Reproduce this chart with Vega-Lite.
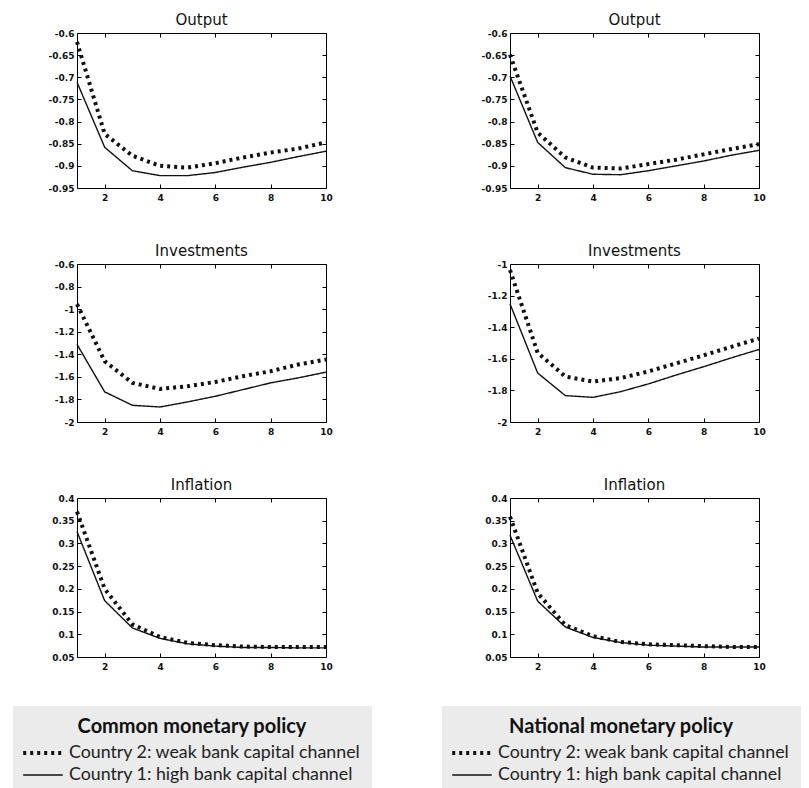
{
  "$schema": "https://vega.github.io/schema/vega-lite/v6.json",
  "autosize": {"type": "pad"},
  "padding": {"left": 12, "top": 12, "right": 0, "bottom": 0},
  "background": "white",
  "data": {"values": [
    {"p":"Common","v":"Output","c":"Country 1: high bank capital channel","t":1,"y":-0.711},
    {"p":"Common","v":"Output","c":"Country 1: high bank capital channel","t":2,"y":-0.858},
    {"p":"Common","v":"Output","c":"Country 1: high bank capital channel","t":3,"y":-0.911},
    {"p":"Common","v":"Output","c":"Country 1: high bank capital channel","t":4,"y":-0.922},
    {"p":"Common","v":"Output","c":"Country 1: high bank capital channel","t":5,"y":-0.922},
    {"p":"Common","v":"Output","c":"Country 1: high bank capital channel","t":6,"y":-0.915},
    {"p":"Common","v":"Output","c":"Country 1: high bank capital channel","t":7,"y":-0.903},
    {"p":"Common","v":"Output","c":"Country 1: high bank capital channel","t":8,"y":-0.892},
    {"p":"Common","v":"Output","c":"Country 1: high bank capital channel","t":9,"y":-0.879},
    {"p":"Common","v":"Output","c":"Country 1: high bank capital channel","t":10,"y":-0.867},
    {"p":"Common","v":"Output","c":"Country 2: weak bank capital channel","t":1,"y":-0.62},
    {"p":"Common","v":"Output","c":"Country 2: weak bank capital channel","t":2,"y":-0.828},
    {"p":"Common","v":"Output","c":"Country 2: weak bank capital channel","t":3,"y":-0.877},
    {"p":"Common","v":"Output","c":"Country 2: weak bank capital channel","t":4,"y":-0.9},
    {"p":"Common","v":"Output","c":"Country 2: weak bank capital channel","t":5,"y":-0.904},
    {"p":"Common","v":"Output","c":"Country 2: weak bank capital channel","t":6,"y":-0.894},
    {"p":"Common","v":"Output","c":"Country 2: weak bank capital channel","t":7,"y":-0.881},
    {"p":"Common","v":"Output","c":"Country 2: weak bank capital channel","t":8,"y":-0.87},
    {"p":"Common","v":"Output","c":"Country 2: weak bank capital channel","t":9,"y":-0.861},
    {"p":"Common","v":"Output","c":"Country 2: weak bank capital channel","t":10,"y":-0.847},
    {"p":"National","v":"Output","c":"Country 1: high bank capital channel","t":1,"y":-0.697},
    {"p":"National","v":"Output","c":"Country 1: high bank capital channel","t":2,"y":-0.847},
    {"p":"National","v":"Output","c":"Country 1: high bank capital channel","t":3,"y":-0.904},
    {"p":"National","v":"Output","c":"Country 1: high bank capital channel","t":4,"y":-0.919},
    {"p":"National","v":"Output","c":"Country 1: high bank capital channel","t":5,"y":-0.92},
    {"p":"National","v":"Output","c":"Country 1: high bank capital channel","t":6,"y":-0.911},
    {"p":"National","v":"Output","c":"Country 1: high bank capital channel","t":7,"y":-0.9},
    {"p":"National","v":"Output","c":"Country 1: high bank capital channel","t":8,"y":-0.889},
    {"p":"National","v":"Output","c":"Country 1: high bank capital channel","t":9,"y":-0.876},
    {"p":"National","v":"Output","c":"Country 1: high bank capital channel","t":10,"y":-0.865},
    {"p":"National","v":"Output","c":"Country 2: weak bank capital channel","t":1,"y":-0.649},
    {"p":"National","v":"Output","c":"Country 2: weak bank capital channel","t":2,"y":-0.825},
    {"p":"National","v":"Output","c":"Country 2: weak bank capital channel","t":3,"y":-0.881},
    {"p":"National","v":"Output","c":"Country 2: weak bank capital channel","t":4,"y":-0.904},
    {"p":"National","v":"Output","c":"Country 2: weak bank capital channel","t":5,"y":-0.906},
    {"p":"National","v":"Output","c":"Country 2: weak bank capital channel","t":6,"y":-0.896},
    {"p":"National","v":"Output","c":"Country 2: weak bank capital channel","t":7,"y":-0.886},
    {"p":"National","v":"Output","c":"Country 2: weak bank capital channel","t":8,"y":-0.874},
    {"p":"National","v":"Output","c":"Country 2: weak bank capital channel","t":9,"y":-0.862},
    {"p":"National","v":"Output","c":"Country 2: weak bank capital channel","t":10,"y":-0.851},
    {"p":"Common","v":"Investments","c":"Country 1: high bank capital channel","t":1,"y":-1.312},
    {"p":"Common","v":"Investments","c":"Country 1: high bank capital channel","t":2,"y":-1.733},
    {"p":"Common","v":"Investments","c":"Country 1: high bank capital channel","t":3,"y":-1.852},
    {"p":"Common","v":"Investments","c":"Country 1: high bank capital channel","t":4,"y":-1.867},
    {"p":"Common","v":"Investments","c":"Country 1: high bank capital channel","t":5,"y":-1.822},
    {"p":"Common","v":"Investments","c":"Country 1: high bank capital channel","t":6,"y":-1.772},
    {"p":"Common","v":"Investments","c":"Country 1: high bank capital channel","t":7,"y":-1.713},
    {"p":"Common","v":"Investments","c":"Country 1: high bank capital channel","t":8,"y":-1.653},
    {"p":"Common","v":"Investments","c":"Country 1: high bank capital channel","t":9,"y":-1.609},
    {"p":"Common","v":"Investments","c":"Country 1: high bank capital channel","t":10,"y":-1.558},
    {"p":"Common","v":"Investments","c":"Country 2: weak bank capital channel","t":1,"y":-0.956},
    {"p":"Common","v":"Investments","c":"Country 2: weak bank capital channel","t":2,"y":-1.461},
    {"p":"Common","v":"Investments","c":"Country 2: weak bank capital channel","t":3,"y":-1.653},
    {"p":"Common","v":"Investments","c":"Country 2: weak bank capital channel","t":4,"y":-1.707},
    {"p":"Common","v":"Investments","c":"Country 2: weak bank capital channel","t":5,"y":-1.683},
    {"p":"Common","v":"Investments","c":"Country 2: weak bank capital channel","t":6,"y":-1.645},
    {"p":"Common","v":"Investments","c":"Country 2: weak bank capital channel","t":7,"y":-1.594},
    {"p":"Common","v":"Investments","c":"Country 2: weak bank capital channel","t":8,"y":-1.55},
    {"p":"Common","v":"Investments","c":"Country 2: weak bank capital channel","t":9,"y":-1.49},
    {"p":"Common","v":"Investments","c":"Country 2: weak bank capital channel","t":10,"y":-1.446},
    {"p":"National","v":"Investments","c":"Country 1: high bank capital channel","t":1,"y":-1.252},
    {"p":"National","v":"Investments","c":"Country 1: high bank capital channel","t":2,"y":-1.69},
    {"p":"National","v":"Investments","c":"Country 1: high bank capital channel","t":3,"y":-1.833},
    {"p":"National","v":"Investments","c":"Country 1: high bank capital channel","t":4,"y":-1.844},
    {"p":"National","v":"Investments","c":"Country 1: high bank capital channel","t":5,"y":-1.808},
    {"p":"National","v":"Investments","c":"Country 1: high bank capital channel","t":6,"y":-1.759},
    {"p":"National","v":"Investments","c":"Country 1: high bank capital channel","t":7,"y":-1.703},
    {"p":"National","v":"Investments","c":"Country 1: high bank capital channel","t":8,"y":-1.65},
    {"p":"National","v":"Investments","c":"Country 1: high bank capital channel","t":9,"y":-1.594},
    {"p":"National","v":"Investments","c":"Country 1: high bank capital channel","t":10,"y":-1.541},
    {"p":"National","v":"Investments","c":"Country 2: weak bank capital channel","t":1,"y":-1.038},
    {"p":"National","v":"Investments","c":"Country 2: weak bank capital channel","t":2,"y":-1.562},
    {"p":"National","v":"Investments","c":"Country 2: weak bank capital channel","t":3,"y":-1.712},
    {"p":"National","v":"Investments","c":"Country 2: weak bank capital channel","t":4,"y":-1.744},
    {"p":"National","v":"Investments","c":"Country 2: weak bank capital channel","t":5,"y":-1.722},
    {"p":"National","v":"Investments","c":"Country 2: weak bank capital channel","t":6,"y":-1.68},
    {"p":"National","v":"Investments","c":"Country 2: weak bank capital channel","t":7,"y":-1.629},
    {"p":"National","v":"Investments","c":"Country 2: weak bank capital channel","t":8,"y":-1.578},
    {"p":"National","v":"Investments","c":"Country 2: weak bank capital channel","t":9,"y":-1.524},
    {"p":"National","v":"Investments","c":"Country 2: weak bank capital channel","t":10,"y":-1.472},
    {"p":"Common","v":"Inflation","c":"Country 1: high bank capital channel","t":1,"y":0.326},
    {"p":"Common","v":"Inflation","c":"Country 1: high bank capital channel","t":2,"y":0.174},
    {"p":"Common","v":"Inflation","c":"Country 1: high bank capital channel","t":3,"y":0.114},
    {"p":"Common","v":"Inflation","c":"Country 1: high bank capital channel","t":4,"y":0.091},
    {"p":"Common","v":"Inflation","c":"Country 1: high bank capital channel","t":5,"y":0.079},
    {"p":"Common","v":"Inflation","c":"Country 1: high bank capital channel","t":6,"y":0.074},
    {"p":"Common","v":"Inflation","c":"Country 1: high bank capital channel","t":7,"y":0.071},
    {"p":"Common","v":"Inflation","c":"Country 1: high bank capital channel","t":8,"y":0.071},
    {"p":"Common","v":"Inflation","c":"Country 1: high bank capital channel","t":9,"y":0.07},
    {"p":"Common","v":"Inflation","c":"Country 1: high bank capital channel","t":10,"y":0.07},
    {"p":"Common","v":"Inflation","c":"Country 2: weak bank capital channel","t":1,"y":0.37},
    {"p":"Common","v":"Inflation","c":"Country 2: weak bank capital channel","t":2,"y":0.2},
    {"p":"Common","v":"Inflation","c":"Country 2: weak bank capital channel","t":3,"y":0.122},
    {"p":"Common","v":"Inflation","c":"Country 2: weak bank capital channel","t":4,"y":0.094},
    {"p":"Common","v":"Inflation","c":"Country 2: weak bank capital channel","t":5,"y":0.081},
    {"p":"Common","v":"Inflation","c":"Country 2: weak bank capital channel","t":6,"y":0.076},
    {"p":"Common","v":"Inflation","c":"Country 2: weak bank capital channel","t":7,"y":0.073},
    {"p":"Common","v":"Inflation","c":"Country 2: weak bank capital channel","t":8,"y":0.072},
    {"p":"Common","v":"Inflation","c":"Country 2: weak bank capital channel","t":9,"y":0.072},
    {"p":"Common","v":"Inflation","c":"Country 2: weak bank capital channel","t":10,"y":0.072},
    {"p":"National","v":"Inflation","c":"Country 1: high bank capital channel","t":1,"y":0.318},
    {"p":"National","v":"Inflation","c":"Country 1: high bank capital channel","t":2,"y":0.173},
    {"p":"National","v":"Inflation","c":"Country 1: high bank capital channel","t":3,"y":0.116},
    {"p":"National","v":"Inflation","c":"Country 1: high bank capital channel","t":4,"y":0.093},
    {"p":"National","v":"Inflation","c":"Country 1: high bank capital channel","t":5,"y":0.082},
    {"p":"National","v":"Inflation","c":"Country 1: high bank capital channel","t":6,"y":0.076},
    {"p":"National","v":"Inflation","c":"Country 1: high bank capital channel","t":7,"y":0.074},
    {"p":"National","v":"Inflation","c":"Country 1: high bank capital channel","t":8,"y":0.072},
    {"p":"National","v":"Inflation","c":"Country 1: high bank capital channel","t":9,"y":0.072},
    {"p":"National","v":"Inflation","c":"Country 1: high bank capital channel","t":10,"y":0.072},
    {"p":"National","v":"Inflation","c":"Country 2: weak bank capital channel","t":1,"y":0.359},
    {"p":"National","v":"Inflation","c":"Country 2: weak bank capital channel","t":2,"y":0.191},
    {"p":"National","v":"Inflation","c":"Country 2: weak bank capital channel","t":3,"y":0.12},
    {"p":"National","v":"Inflation","c":"Country 2: weak bank capital channel","t":4,"y":0.096},
    {"p":"National","v":"Inflation","c":"Country 2: weak bank capital channel","t":5,"y":0.083},
    {"p":"National","v":"Inflation","c":"Country 2: weak bank capital channel","t":6,"y":0.078},
    {"p":"National","v":"Inflation","c":"Country 2: weak bank capital channel","t":7,"y":0.076},
    {"p":"National","v":"Inflation","c":"Country 2: weak bank capital channel","t":8,"y":0.074},
    {"p":"National","v":"Inflation","c":"Country 2: weak bank capital channel","t":9,"y":0.072},
    {"p":"National","v":"Inflation","c":"Country 2: weak bank capital channel","t":10,"y":0.072}
  ]},
  "columns": 2,
  "spacing": {"row": 76, "column": 184},
  "bounds": "flush",
  "align": "each",
  "concat": [
    {
      "width": 249, "height": 155, "title": "Output",
      "transform": [{"filter": "datum.p === 'Common' && datum.v === 'Output'"}],
      "layer": [
        {"mark": {"type": "line", "stroke": "#111", "strokeCap": "butt"},
         "encoding": {
           "x": {"field": "t", "type": "quantitative", "title": null, "scale": {"domain": [1, 10], "nice": false}, "axis": {"values": [2, 4, 6, 8, 10]}},
           "y": {"field": "y", "type": "quantitative", "title": null, "scale": {"domain": [-0.95, -0.6], "nice": false, "zero": false}, "axis": {"values": [-0.95, -0.9, -0.85, -0.8, -0.75, -0.7, -0.65, -0.6]}},
           "strokeDash": {"field": "c", "type": "nominal", "scale": {"domain": ["Country 2: weak bank capital channel", "Country 1: high bank capital channel"], "range": [[3, 4], [1, 0]]}, "legend": null},
           "strokeWidth": {"field": "c", "type": "ordinal", "scale": {"domain": ["Country 2: weak bank capital channel", "Country 1: high bank capital channel"], "range": [4, 1.4]}, "legend": null}
         }},
        {"mark": {"type": "point", "opacity": 0},
         "encoding": {
           "x": {"field": "t", "type": "quantitative", "title": null, "scale": {"domain": [1, 10], "nice": false}, "axis": {"orient": "top", "labels": false, "values": [2, 4, 6, 8, 10]}},
           "y": {"field": "y", "type": "quantitative", "title": null, "scale": {"domain": [-0.95, -0.6], "nice": false, "zero": false}, "axis": {"orient": "right", "labels": false, "values": [-0.95, -0.9, -0.85, -0.8, -0.75, -0.7, -0.65, -0.6]}}
         }}
      ],
      "resolve": {"axis": {"x": "independent", "y": "independent"}}
    },
    {
      "width": 249, "height": 155, "title": "Output",
      "transform": [{"filter": "datum.p === 'National' && datum.v === 'Output'"}],
      "layer": [
        {"mark": {"type": "line", "stroke": "#111", "strokeCap": "butt"},
         "encoding": {
           "x": {"field": "t", "type": "quantitative", "title": null, "scale": {"domain": [1, 10], "nice": false}, "axis": {"values": [2, 4, 6, 8, 10]}},
           "y": {"field": "y", "type": "quantitative", "title": null, "scale": {"domain": [-0.95, -0.6], "nice": false, "zero": false}, "axis": {"values": [-0.95, -0.9, -0.85, -0.8, -0.75, -0.7, -0.65, -0.6]}},
           "strokeDash": {"field": "c", "type": "nominal", "scale": {"domain": ["Country 2: weak bank capital channel", "Country 1: high bank capital channel"], "range": [[3, 4], [1, 0]]}, "legend": null},
           "strokeWidth": {"field": "c", "type": "ordinal", "scale": {"domain": ["Country 2: weak bank capital channel", "Country 1: high bank capital channel"], "range": [4, 1.4]}, "legend": null}
         }},
        {"mark": {"type": "point", "opacity": 0},
         "encoding": {
           "x": {"field": "t", "type": "quantitative", "title": null, "scale": {"domain": [1, 10], "nice": false}, "axis": {"orient": "top", "labels": false, "values": [2, 4, 6, 8, 10]}},
           "y": {"field": "y", "type": "quantitative", "title": null, "scale": {"domain": [-0.95, -0.6], "nice": false, "zero": false}, "axis": {"orient": "right", "labels": false, "values": [-0.95, -0.9, -0.85, -0.8, -0.75, -0.7, -0.65, -0.6]}}
         }}
      ],
      "resolve": {"axis": {"x": "independent", "y": "independent"}}
    },
    {
      "width": 249, "height": 158, "title": "Investments",
      "transform": [{"filter": "datum.p === 'Common' && datum.v === 'Investments'"}],
      "layer": [
        {"mark": {"type": "line", "stroke": "#111", "strokeCap": "butt"},
         "encoding": {
           "x": {"field": "t", "type": "quantitative", "title": null, "scale": {"domain": [1, 10], "nice": false}, "axis": {"values": [2, 4, 6, 8, 10]}},
           "y": {"field": "y", "type": "quantitative", "title": null, "scale": {"domain": [-2, -0.6], "nice": false, "zero": false}, "axis": {"values": [-2, -1.8, -1.6, -1.4, -1.2, -1, -0.8, -0.6]}},
           "strokeDash": {"field": "c", "type": "nominal", "scale": {"domain": ["Country 2: weak bank capital channel", "Country 1: high bank capital channel"], "range": [[3, 4], [1, 0]]}, "legend": null},
           "strokeWidth": {"field": "c", "type": "ordinal", "scale": {"domain": ["Country 2: weak bank capital channel", "Country 1: high bank capital channel"], "range": [4, 1.4]}, "legend": null}
         }},
        {"mark": {"type": "point", "opacity": 0},
         "encoding": {
           "x": {"field": "t", "type": "quantitative", "title": null, "scale": {"domain": [1, 10], "nice": false}, "axis": {"orient": "top", "labels": false, "values": [2, 4, 6, 8, 10]}},
           "y": {"field": "y", "type": "quantitative", "title": null, "scale": {"domain": [-2, -0.6], "nice": false, "zero": false}, "axis": {"orient": "right", "labels": false, "values": [-2, -1.8, -1.6, -1.4, -1.2, -1, -0.8, -0.6]}}
         }}
      ],
      "resolve": {"axis": {"x": "independent", "y": "independent"}}
    },
    {
      "width": 249, "height": 158, "title": "Investments",
      "transform": [{"filter": "datum.p === 'National' && datum.v === 'Investments'"}],
      "layer": [
        {"mark": {"type": "line", "stroke": "#111", "strokeCap": "butt"},
         "encoding": {
           "x": {"field": "t", "type": "quantitative", "title": null, "scale": {"domain": [1, 10], "nice": false}, "axis": {"values": [2, 4, 6, 8, 10]}},
           "y": {"field": "y", "type": "quantitative", "title": null, "scale": {"domain": [-2, -1], "nice": false, "zero": false}, "axis": {"values": [-2, -1.8, -1.6, -1.4, -1.2, -1]}},
           "strokeDash": {"field": "c", "type": "nominal", "scale": {"domain": ["Country 2: weak bank capital channel", "Country 1: high bank capital channel"], "range": [[3, 4], [1, 0]]}, "legend": null},
           "strokeWidth": {"field": "c", "type": "ordinal", "scale": {"domain": ["Country 2: weak bank capital channel", "Country 1: high bank capital channel"], "range": [4, 1.4]}, "legend": null}
         }},
        {"mark": {"type": "point", "opacity": 0},
         "encoding": {
           "x": {"field": "t", "type": "quantitative", "title": null, "scale": {"domain": [1, 10], "nice": false}, "axis": {"orient": "top", "labels": false, "values": [2, 4, 6, 8, 10]}},
           "y": {"field": "y", "type": "quantitative", "title": null, "scale": {"domain": [-2, -1], "nice": false, "zero": false}, "axis": {"orient": "right", "labels": false, "values": [-2, -1.8, -1.6, -1.4, -1.2, -1]}}
         }}
      ],
      "resolve": {"axis": {"x": "independent", "y": "independent"}}
    },
    {
      "width": 249, "height": 159, "title": "Inflation",
      "transform": [{"filter": "datum.p === 'Common' && datum.v === 'Inflation'"}],
      "layer": [
        {"mark": {"type": "line", "stroke": "#111", "strokeCap": "butt"},
         "encoding": {
           "x": {"field": "t", "type": "quantitative", "title": null, "scale": {"domain": [1, 10], "nice": false}, "axis": {"values": [2, 4, 6, 8, 10]}},
           "y": {"field": "y", "type": "quantitative", "title": null, "scale": {"domain": [0.05, 0.4], "nice": false, "zero": false}, "axis": {"values": [0.05, 0.1, 0.15, 0.2, 0.25, 0.3, 0.35, 0.4]}},
           "strokeDash": {"field": "c", "type": "nominal", "title": "Common monetary policy", "scale": {"domain": ["Country 2: weak bank capital channel", "Country 1: high bank capital channel"], "range": [[3, 4], [1, 0]]}, "legend": {"orient": "none", "legendX": -64, "legendY": 208, "padding": 11}},
           "strokeWidth": {"field": "c", "type": "ordinal", "title": "Common monetary policy", "scale": {"domain": ["Country 2: weak bank capital channel", "Country 1: high bank capital channel"], "range": [4, 1.4]}, "legend": {"orient": "none", "legendX": -64, "legendY": 208, "padding": 11}}
         }},
        {"mark": {"type": "point", "opacity": 0},
         "encoding": {
           "x": {"field": "t", "type": "quantitative", "title": null, "scale": {"domain": [1, 10], "nice": false}, "axis": {"orient": "top", "labels": false, "values": [2, 4, 6, 8, 10]}},
           "y": {"field": "y", "type": "quantitative", "title": null, "scale": {"domain": [0.05, 0.4], "nice": false, "zero": false}, "axis": {"orient": "right", "labels": false, "values": [0.05, 0.1, 0.15, 0.2, 0.25, 0.3, 0.35, 0.4]}}
         }}
      ],
      "resolve": {"axis": {"x": "independent", "y": "independent"}}
    },
    {
      "width": 249, "height": 159, "title": "Inflation",
      "transform": [{"filter": "datum.p === 'National' && datum.v === 'Inflation'"}],
      "layer": [
        {"mark": {"type": "line", "stroke": "#111", "strokeCap": "butt"},
         "encoding": {
           "x": {"field": "t", "type": "quantitative", "title": null, "scale": {"domain": [1, 10], "nice": false}, "axis": {"values": [2, 4, 6, 8, 10]}},
           "y": {"field": "y", "type": "quantitative", "title": null, "scale": {"domain": [0.05, 0.4], "nice": false, "zero": false}, "axis": {"values": [0.05, 0.1, 0.15, 0.2, 0.25, 0.3, 0.35, 0.4]}},
           "strokeDash": {"field": "c", "type": "nominal", "title": "National monetary policy", "scale": {"domain": ["Country 2: weak bank capital channel", "Country 1: high bank capital channel"], "range": [[3, 4], [1, 0]]}, "legend": {"orient": "none", "legendX": -68, "legendY": 208, "padding": 11}},
           "strokeWidth": {"field": "c", "type": "ordinal", "title": "National monetary policy", "scale": {"domain": ["Country 2: weak bank capital channel", "Country 1: high bank capital channel"], "range": [4, 1.4]}, "legend": {"orient": "none", "legendX": -68, "legendY": 208, "padding": 11}}
         }},
        {"mark": {"type": "point", "opacity": 0},
         "encoding": {
           "x": {"field": "t", "type": "quantitative", "title": null, "scale": {"domain": [1, 10], "nice": false}, "axis": {"orient": "top", "labels": false, "values": [2, 4, 6, 8, 10]}},
           "y": {"field": "y", "type": "quantitative", "title": null, "scale": {"domain": [0.05, 0.4], "nice": false, "zero": false}, "axis": {"orient": "right", "labels": false, "values": [0.05, 0.1, 0.15, 0.2, 0.25, 0.3, 0.35, 0.4]}}
         }}
      ],
      "resolve": {"axis": {"x": "independent", "y": "independent"}}
    }
  ],
  "resolve": {
    "scale": {"strokeDash": "independent", "strokeWidth": "independent"},
    "legend": {"strokeDash": "independent", "strokeWidth": "independent"}
  },
  "config": {
    "locale": {"number": {"decimal": ".", "thousands": ",", "grouping": [3], "currency": ["$", ""], "minus": "-"}},
    "view": {"stroke": "#000", "strokeWidth": 1, "fill": "white"},
    "axis": {
      "domain": false, "grid": false, "ticks": true, "tickSize": -4, "tickColor": "#000", "tickWidth": 1,
      "labelFont": "DejaVu Sans", "labelFontSize": 9, "labelFontWeight": "bold", "labelColor": "#111",
      "labelPadding": 7, "labelFlush": false, "labelOverlap": false, "format": "~r"
    },
    "axisBottom": {"labelPadding": 9},
    "title": {"font": "DejaVu Sans", "fontSize": 15, "fontWeight": "normal", "color": "#111", "offset": 1, "anchor": "middle"},
    "legend": {
      "symbolType": "M-2.2,0H2.2", "symbolSize": 324, "symbolStrokeColor": "#111", "symbolOffset": 8,
      "labelFont": "Lato", "labelFontSize": 17.8, "labelColor": "#222", "labelOffset": 15, "labelLimit": 500,
      "titleFont": "Lato", "titleFontSize": 20, "titleFontWeight": "bold", "titleColor": "#111",
      "titleAnchor": "middle", "titlePadding": 5, "titleLimit": 500,
      "fillColor": "#ebebeb", "rowPadding": 3
    }
  }
}
